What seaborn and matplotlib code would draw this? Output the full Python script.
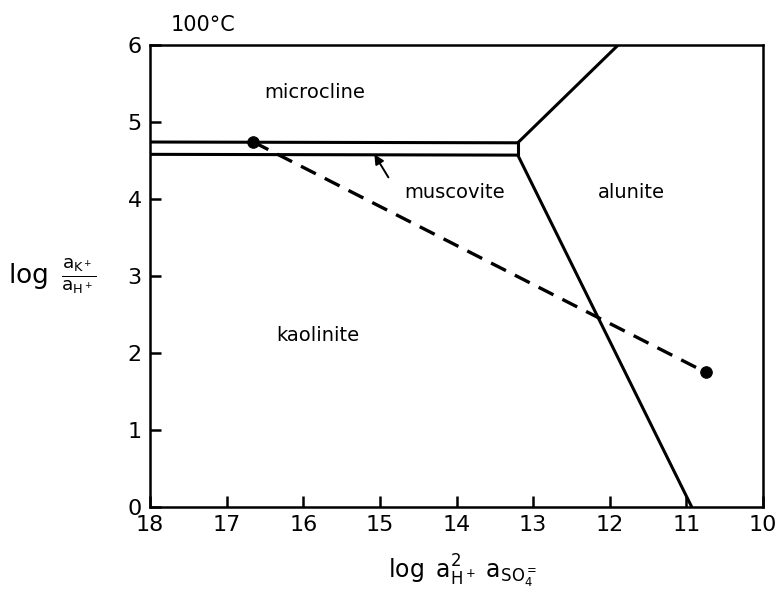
import matplotlib
matplotlib.use("Agg")
import matplotlib.pyplot as plt
import seaborn as sns
import pandas as pd

sns.set_theme(style="white")
plt.rcParams['font.family'] = ['DejaVu Sans']
plt.rcParams['mathtext.fontset'] = 'dejavusans'

# Phase boundaries (log a_H+^2 a_SO4=, log aK+/aH+)
musc_upper_x = [18.0, 13.2]
musc_upper_y = [4.74, 4.73]
musc_lower_x = [18.0, 13.2]
musc_lower_y = [4.58, 4.57]
junction_x = [13.2, 13.2]
junction_y = [4.57, 4.73]
micro_alun_x = [13.2, 11.89]
micro_alun_y = [4.73, 6.0]
kaol_alun_x = [13.2, 10.93]
kaol_alun_y = [4.57, 0.0]

# Reaction path (dashed) with end points
path_x = [16.65, 10.75]
path_y = [4.74, 1.75]

labels = ["microcline", "muscovite", "alunite", "kaolinite"]
label_x = [15.85, 14.02, 11.72, 15.81]
label_y = [5.38, 4.09, 4.09, 2.23]

xticks = [18, 17, 16, 15, 14, 13, 12, 11, 10]
yticks = [0, 1, 2, 3, 4, 5, 6]

fig = plt.figure(figsize=(7.79, 6.01), dpi=100)
ax = fig.add_axes([150/779, 1 - 507/601, 613/779, 462/601])

lw = 2.2
for xs, ys in [(musc_upper_x, musc_upper_y), (musc_lower_x, musc_lower_y),
               (junction_x, junction_y), (micro_alun_x, micro_alun_y),
               (kaol_alun_x, kaol_alun_y)]:
    df = pd.DataFrame({"x": xs, "y": ys})
    sns.lineplot(data=df, x="x", y="y", sort=False, estimator=None,
                 color="black", linewidth=lw, ax=ax)

dfp = pd.DataFrame({"x": path_x, "y": path_y})
sns.lineplot(data=dfp, x="x", y="y", sort=False, estimator=None,
             color="black", linewidth=2.4, linestyle=(0, (5, 3)), ax=ax)
sns.scatterplot(data=dfp, x="x", y="y", color="black", s=70,
                edgecolor="black", zorder=5, ax=ax)

for t, x, y in zip(labels, label_x, label_y):
    ax.text(x, y, t, ha="center", va="center", fontsize=14, color="black")

# arrow pointing to muscovite band
ax.annotate("", xy=(15.09, 4.61), xytext=(14.87, 4.25),
            arrowprops=dict(arrowstyle="-|>", color="black", lw=1.4,
                            mutation_scale=14))

ax.set_xlim(18, 10)
ax.set_ylim(0, 6)
ax.set_xticks(xticks)
ax.set_yticks(yticks)
ax.set_xticklabels([str(v) for v in xticks], fontsize=16)
ax.set_yticklabels([str(v) for v in yticks], fontsize=16)
ax.tick_params(direction="in", length=8, width=1.8, left=True, bottom=True,
               top=False, right=False, colors="black", pad=6)

for s in ax.spines.values():
    s.set_color("black")
    s.set_linewidth(1.8)
    s.set_visible(True)

ax.set_xlabel(r"$\log\ \mathrm{a}^2_{\mathrm{H}^+}\ \mathrm{a}_{\mathrm{SO}_4^=}$",
              fontsize=17, color="black", va="center")
ax.xaxis.set_label_coords(0.51, -0.14)
ax.set_ylabel(r"$\log\ \frac{\mathrm{a}_{\mathrm{K}^+}}{\mathrm{a}_{\mathrm{H}^+}}$",
              fontsize=19, rotation=0, color="black", va="center", ha="center")
ax.yaxis.set_label_coords(-0.16, 0.5)

fig.text(203/779, 1 - 25/601, "100°C", ha="center", va="center",
         fontsize=15, color="black")

fig.savefig("out.png", dpi=100, facecolor="white")
